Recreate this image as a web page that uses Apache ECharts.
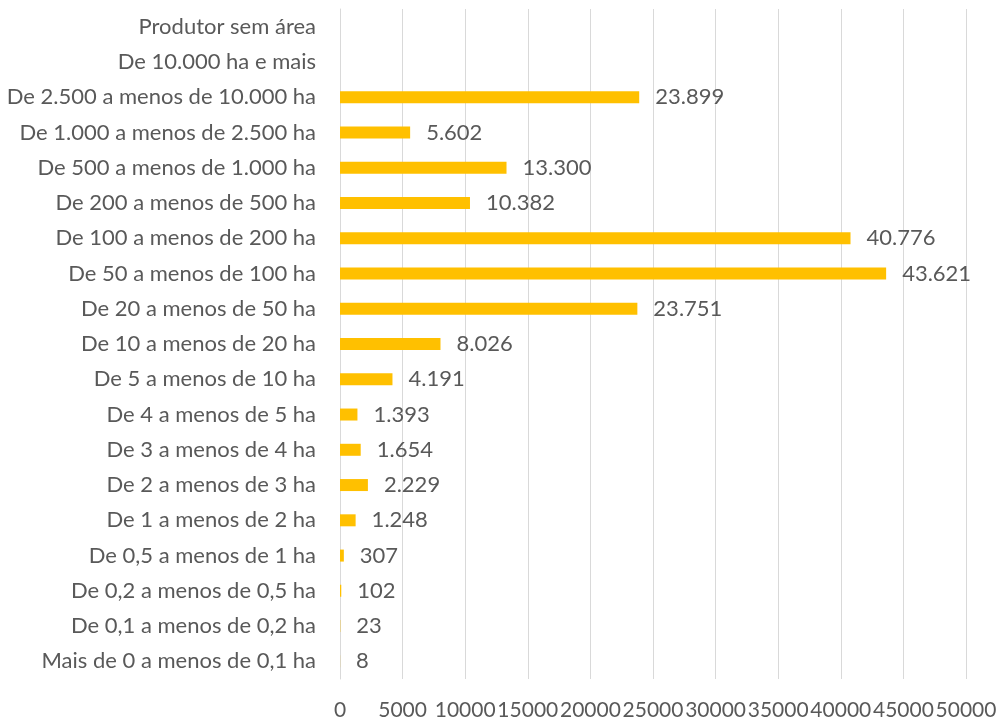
<!DOCTYPE html>
<html>
<head>
<meta charset="utf-8">
<script src="https://cdn.jsdelivr.net/npm/echarts@6/dist/echarts.min.js"></script>
<style>
  html, body { margin: 0; padding: 0; background: #fff; }
  #chart { width: 998px; height: 720px; }
</style>
</head>
<body>
<div id="chart"></div>
<script>
// Area classes, listed bottom to top as they appear on the category axis
const classes = [
  'Mais de 0 a menos de 0,1 ha',
  'De 0,1 a menos de 0,2 ha',
  'De 0,2 a menos de 0,5 ha',
  'De 0,5 a menos de 1 ha',
  'De 1 a menos de 2 ha',
  'De 2 a menos de 3 ha',
  'De 3 a menos de 4 ha',
  'De 4 a menos de 5 ha',
  'De 5 a menos de 10 ha',
  'De 10 a menos de 20 ha',
  'De 20 a menos de 50 ha',
  'De 50 a menos de 100 ha',
  'De 100 a menos de 200 ha',
  'De 200 a menos de 500 ha',
  'De 500 a menos de 1.000 ha',
  'De 1.000 a menos de 2.500 ha',
  'De 2.500 a menos de 10.000 ha',
  'De 10.000 ha e mais',
  'Produtor sem área'
];

// Values per class (empty classes have no bar)
const values = [8, 23, 102, 307, 1248, 2229, 1654, 1393, 4191, 8026, 23751, 43621, 40776, 10382, 13300, 5602, 23899, null, null];

const axisMin = 0;
const axisMax = 50000;
const axisStep = 5000;

const textColor = '#595959';
const fontFamily = 'Lato, "Open Sans", sans-serif';

function formatThousands(v) {
  return String(v).replace(/\B(?=(\d{3})+(?!\d))/g, '.');
}

const chart = echarts.init(document.getElementById('chart'), null, { renderer: 'canvas' });

chart.setOption({
  animation: false,
  backgroundColor: '#ffffff',
  grid: { left: 340, right: 32, top: 9, bottom: 41, containLabel: false, outerBoundsMode: 'none' },
  xAxis: {
    type: 'value',
    min: axisMin,
    max: axisMax,
    interval: axisStep,
    axisLine: { show: false },
    axisTick: { show: false },
    splitLine: { show: true, lineStyle: { color: '#d9d9d9', width: 1 } },
    axisLabel: {
      color: textColor,
      fontFamily: fontFamily,
      fontSize: 21,
      margin: 21,
      hideOverlap: false,
      showMaxLabel: true,
      formatter: v => String(v)
    }
  },
  yAxis: {
    type: 'category',
    data: classes,
    axisLine: { show: true, lineStyle: { color: '#d9d9d9', width: 1 } },
    axisTick: { show: false },
    axisLabel: {
      color: textColor,
      fontFamily: fontFamily,
      fontSize: 22,
      margin: 24,
      interval: 0
    }
  },
  series: [{
    type: 'bar',
    data: values,
    barWidth: 12,
    itemStyle: { color: '#FFC000' },
    label: {
      show: true,
      position: 'right',
      distance: 16,
      color: textColor,
      fontFamily: fontFamily,
      fontSize: 22,
      formatter: p => p.value == null ? '' : formatThousands(p.value)
    }
  }]
});
</script>
</body>
</html>
